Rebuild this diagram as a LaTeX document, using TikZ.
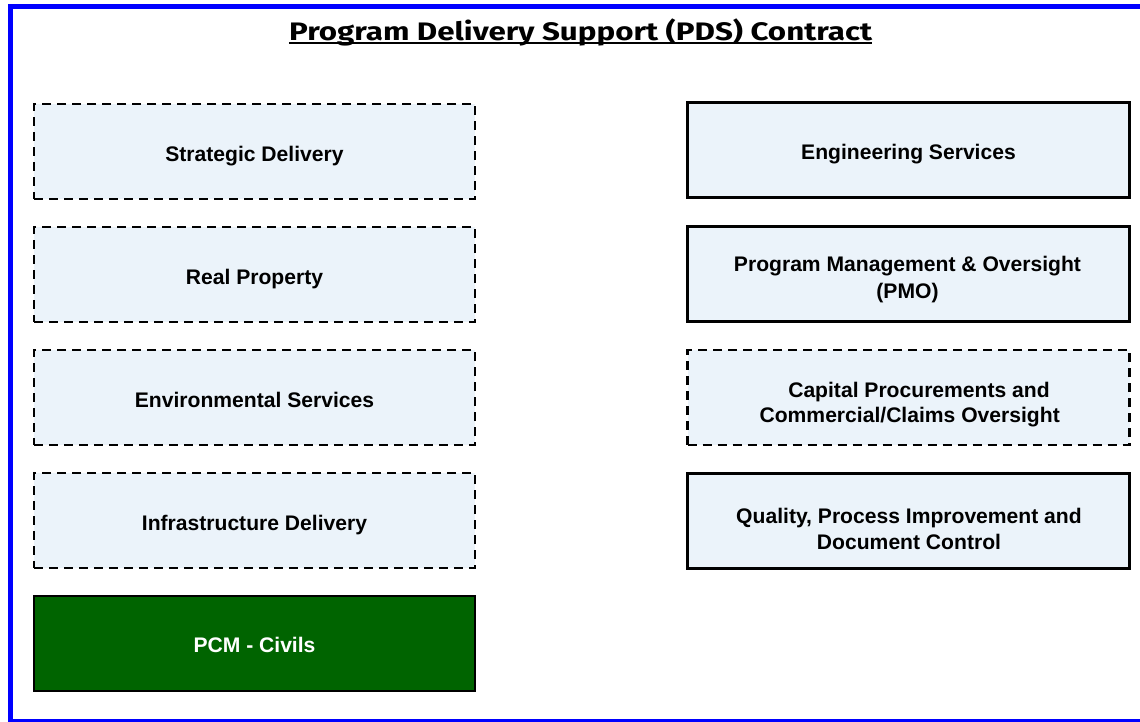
\documentclass[tikz,border=0pt]{standalone}
\usepackage{fontspec}
\setmainfont{Liberation Sans}
\newfontfamily\titlefont{Fira Sans}
\definecolor{boxfill}{RGB}{235,243,250}
\definecolor{pcmgreen}{RGB}{0,100,0}
\definecolor{frameblue}{RGB}{0,0,255}
\begin{document}
\begin{tikzpicture}[x=1pt,y=-1pt,
  card/.style={draw=black,line width=2.3pt,fill=boxfill,minimum width=441pt,minimum height=95pt,inner sep=0pt},
  dashedcard/.style={card,dash pattern=on 9pt off 6pt},
  greencard/.style={card,fill=pcmgreen},
  solidcard/.style={card},
  lbl/.style={anchor=base,inner sep=0pt,font=\fontsize{21.1}{25}\selectfont\bfseries,text=black},
  wlbl/.style={lbl,text=white}]
\useasboundingbox (0,0) rectangle (1140,721);
\clip (0,0) rectangle (1140,721);
\fill[white] (0,0) rectangle (1140,721);
\draw[frameblue,line width=4.8pt] (10.4,6.5) rectangle (1150,721.5);
\node[anchor=base,inner sep=0pt,font=\titlefont\fontsize{25.3}{30}\selectfont\bfseries] (title) at (580.6,40.7)
  {\resizebox{583pt}{\height}{Program Delivery Support (PDS) Contract}};
\draw[line width=1.8pt] ([yshift=-2.6pt]title.base west) -- ([yshift=-2.6pt]title.base east);
% left column
\node[dashedcard] (sd) at (254.5,151.5) {};
\node[dashedcard] (rp) at (254.5,274.5) {};
\node[dashedcard] (es) at (254.5,397.5) {};
\node[dashedcard] (id) at (254.5,520.5) {};
\node[greencard] (pcm) at (254.5,643.5) {};
\node[lbl] (sdt) at (254.5,161) {Strategic Delivery};
\node[lbl] (rpt) at (254.5,284) {Real Property};
\node[lbl] (est) at (254.5,407) {Environmental Services};
\node[lbl] (idt) at (254.5,530) {Infrastructure Delivery};
\node[wlbl] (pcmt) at (254.5,652.7) {PCM - Civils};
% right column
\node[solidcard,minimum width=442pt] (eng) at (908.5,150) {};
\node[solidcard,minimum width=442pt] (pmo) at (908.5,274) {};
\node[dashedcard,minimum width=442pt] (cap) at (908.5,397.5) {};
\node[solidcard,minimum width=442pt] (qual) at (908.5,521) {};
\node[lbl] (engt) at (908.5,159.5) {Engineering Services};
\node[lbl] (pmot1) at (907.5,271.7) {Program Management \& Oversight};
\node[lbl] (pmot2) at (907.5,298.3) {(PMO)};
\node[lbl] (capt1) at (919,397.3) {Capital Procurements and};
\node[lbl] (capt2) at (909.7,422.3) {Commercial/Claims Oversight};
\node[lbl] (qualt1) at (909,523.3) {Quality, Process Improvement and};
\node[lbl] (qualt2) at (909,549.3) {Document Control};
\end{tikzpicture}
\end{document}
